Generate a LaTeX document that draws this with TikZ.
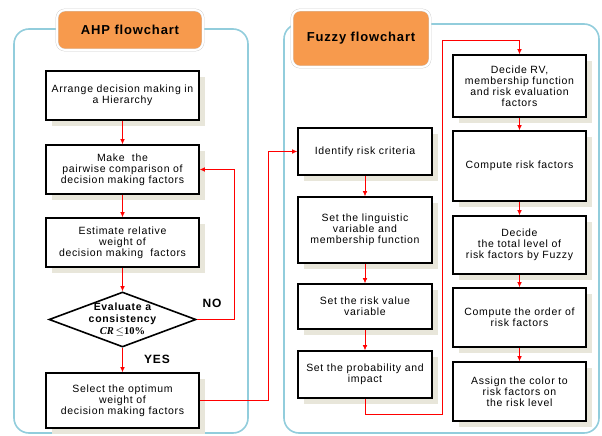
\documentclass[tikz,border=0pt]{standalone}
\usepackage{fontspec}
\setmainfont{Liberation Sans}[LetterSpace=6.5]
\newfontfamily\crfont{Liberation Serif}
\usetikzlibrary{shapes.geometric,shadows,arrows.meta}
\definecolor{titleorange}{HTML}{F79A4D}
\definecolor{frameblue}{HTML}{92CDDC}
\definecolor{shadowgray}{HTML}{E8E6DA}
\begin{document}
\begin{tikzpicture}[x=1pt, y=-1pt,
    box/.style={draw, line width=1.6pt, fill=white, align=center, inner sep=1pt,
      font=\fontsize{10.5}{11}\selectfont,
      drop shadow={shadow xshift=6pt, shadow yshift=-6pt, fill=shadowgray, opacity=1}},
    title/.style={draw=black!20, double=white, double distance=2pt, fill=titleorange,
      rounded corners=8pt, font=\bfseries\fontsize{13}{14}\selectfont},
    frame/.style={draw=frameblue, line width=1.6pt, rounded corners=15pt},
    flow/.style={red, line width=0.6pt, -{Latex[length=5pt,width=4.5pt]}},
    tag/.style={font=\bfseries\fontsize{12}{13}\selectfont}]
  \useasboundingbox (0,0) rectangle (602,436);

  % the two panels
  \draw[frame] (14,29) rectangle (248,433);
  \draw[frame] (284,24) rectangle (599,433);
  \node[title, minimum width=146pt, minimum height=40pt] (ahp) at (130,30) {AHP flowchart};
  \node[title, minimum width=138pt, minimum height=57pt] (fuzzy) at (361,38.5) {Fuzzy flowchart};

  % AHP side
  \node[box, minimum width=153pt, minimum height=49pt] (arr) at (122.5,95.5) {Arrange decision making in\\a Hierarchy};
  \node[box, minimum width=153pt, minimum height=49pt] (pair) at (122.5,169.5) {Make\ \ the\\pairwise comparison of\\decision making factors};
  \node[box, minimum width=153pt, minimum height=49pt] (est) at (122.5,242.5) {Estimate relative\\weight of\\decision making\ \ factors};
  \node[diamond, draw, line width=1.6pt, fill=white, aspect=2.67, inner sep=-6pt, align=center,
    minimum width=147pt, minimum height=55pt, font=\bfseries\fontsize{10.5}{12}\selectfont] (eval) at (122.5,319.5)
    {Evaluate a\\consistency\\{\crfont\itshape CR}\,$\leq${\crfont 10\%}};
  \node[box, minimum width=153pt, minimum height=55pt] (sel) at (122.5,400.5) {Select the optimum\\weight of\\decision making factors};
  \node[tag] (no) at (212,303) {NO};
  \node[tag] (yes) at (157,359) {YES};

  % Fuzzy side, first column
  \node[box, minimum width=134pt, minimum height=47pt] (ident) at (365,151.5) {Identify risk criteria};
  \node[box, minimum width=134pt, minimum height=66pt] (ling) at (365,230) {Set the linguistic\\variable and\\membership function};
  \node[box, minimum width=134pt, minimum height=45pt] (riskv) at (365,306.5) {Set the risk value\\variable};
  \node[box, minimum width=134pt, minimum height=47pt] (prob) at (365,374.5) {Set the probability and\\impact};

  % Fuzzy side, second column
  \node[box, minimum width=133pt, minimum height=62pt] (rv) at (519.5,86) {Decide RV,\\membership function\\and risk evaluation\\factors};
  \node[box, minimum width=133pt, minimum height=70pt] (comp) at (519.5,166) {Compute risk factors};
  \node[box, minimum width=133pt, minimum height=58pt] (total) at (519.5,245) {Decide\\the total level of\\risk factors by Fuzzy};
  \node[box, minimum width=133pt, minimum height=59pt] (order) at (519.5,317.5) {Compute the order of\\risk factors};
  \node[box, minimum width=133pt, minimum height=59pt] (color) at (519.5,391.5) {Assign the color to\\risk factors on\\the risk level};
  \coordinate (hop) at (442,40);

  \draw[flow] (arr) -- (pair);
  \draw[flow] (pair) -- (est);
  \draw[flow] (est) -- (eval);
  \draw[flow] (eval) -- (sel);
  \draw[flow] (eval.east) -- ++(37,0) |- (pair.east);
  \draw[flow] (sel.east) -- ++(68,0) |- (ident.west);
  \draw[flow] (ident) -- (ling);
  \draw[flow] (ling) -- (riskv);
  \draw[flow] (riskv) -- (prob);
  \draw[flow] (prob.south) -- ++(0,15) -| (hop) -| (rv.north);
  \draw[flow] (rv) -- (comp);
  \draw[flow] (comp) -- (total);
  \draw[flow] (total) -- (order);
  \draw[flow] (order) -- (color);
\end{tikzpicture}
\end{document}
